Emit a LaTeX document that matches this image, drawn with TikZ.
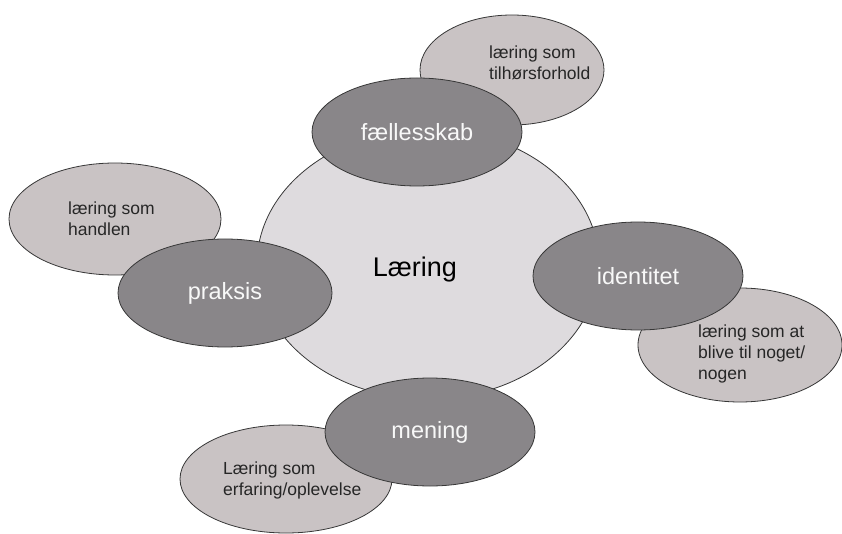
\documentclass[tikz,border=0pt]{standalone}
\usepackage{fontspec}
\setmainfont{Liberation Sans}
\usepackage{tikz}
\usetikzlibrary{shapes.geometric}

\definecolor{kredsfarve}{RGB}{222,219,222}
\definecolor{moerk}{RGB}{137,134,137}
\definecolor{lys}{RGB}{201,195,196}
\definecolor{kant}{RGB}{55,55,55}

\begin{document}
\begin{tikzpicture}[x=1pt,y=-1pt,
		hoved/.style={ellipse, draw=kant, line width=0.8pt, fill=moerk, text=white!94!moerk, inner sep=0pt, minimum width=210pt, minimum height=108pt, font=\fontsize{23.5}{28}\selectfont},
		bi/.style={ellipse, draw=kant, line width=0.8pt, fill=lys, inner sep=0pt},
		bitekst/.style={anchor=north west, align=left, inner sep=0pt, text=black!85, font=\fontsize{17.5}{21}\selectfont}]
		\useasboundingbox (0,0) rectangle (842,534);
		\node[ellipse, draw=kant, line width=0.8pt, fill=kredsfarve, minimum width=342pt, minimum height=270pt] (kreds) at (428,264) {};
		\node[inner sep=0pt, font=\fontsize{27}{32}\selectfont] (laering) at (415,270) {Læring};
		\node[bi, minimum width=184pt, minimum height=110pt] (tilhoer) at (512,70) {};
		\node[bi, minimum width=212pt, minimum height=112pt] (handlen) at (115,219) {};
		\node[bi, minimum width=204pt, minimum height=114pt] (noget) at (740,345) {};
		\node[bi, minimum width=212pt, minimum height=108pt] (erfaring) at (286,479) {};
		\node[bitekst] (tilhoertekst) at (489,46) {læring som\\tilhørsforhold};
		\node[bitekst] (handlentekst) at (68,202) {læring som\\handlen};
		\node[bitekst] (nogettekst) at (698,325) {læring som at\\blive til noget/\\nogen};
		\node[bitekst] (erfaringtekst) at (223,462) {Læring som\\erfaring/oplevelse};
		\node[hoved] (faellesskab) at (417,132) {fællesskab};
		\node[hoved, minimum width=214pt] (praksis) at (225,293) {praksis};
		\node[hoved] (identitet) at (638,276) {identitet};
		\node[hoved] (mening) at (430,432) {mening};
\end{tikzpicture}
\end{document}
